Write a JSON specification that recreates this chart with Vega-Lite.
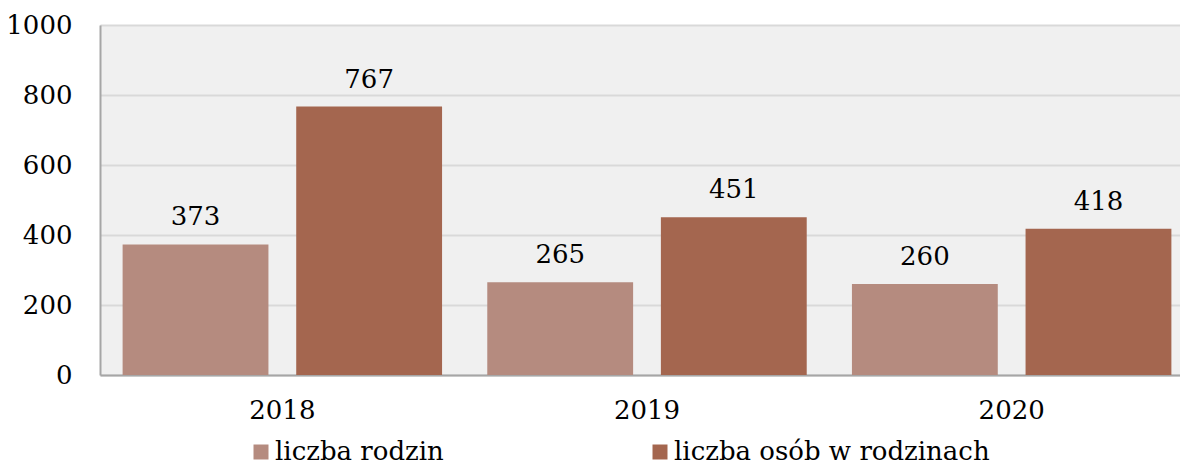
{
  "$schema": "https://vega.github.io/schema/vega-lite/v6.json",
  "width": 1094,
  "height": 350,
  "autosize": {"type": "none"},
  "padding": {"left": 100, "top": 25, "right": 0, "bottom": 100},
  "background": "white",
  "config": {
    "view": {"fill": "#f0f0f0", "stroke": null},
    "font": "DejaVu Serif"
  },
  "data": {
    "values": [
      {"rok": "2018", "seria": "liczba rodzin", "wartosc": 373},
      {"rok": "2018", "seria": "liczba osób w rodzinach", "wartosc": 767},
      {"rok": "2019", "seria": "liczba rodzin", "wartosc": 265},
      {"rok": "2019", "seria": "liczba osób w rodzinach", "wartosc": 451},
      {"rok": "2020", "seria": "liczba rodzin", "wartosc": 260},
      {"rok": "2020", "seria": "liczba osób w rodzinach", "wartosc": 418}
    ]
  },
  "encoding": {
    "x": {
      "field": "rok", "type": "nominal",
      "scale": {"paddingInner": 0.124, "paddingOuter": 0.062},
      "axis": {
        "title": null, "labelAngle": 0, "ticks": false,
        "domainColor": "#a6a6a6", "domainWidth": 2,
        "labelFontSize": 26, "labelColor": "#000000", "labelPadding": 22,
        "labelFont": "DejaVu Serif"
      }
    },
    "xOffset": {
      "field": "seria", "type": "nominal",
      "scale": {"domain": ["liczba rodzin", "liczba osób w rodzinach"], "paddingInner": 0.16, "paddingOuter": 0}
    },
    "y": {
      "field": "wartosc", "type": "quantitative",
      "scale": {"domain": [0, 1000]},
      "axis": {
        "title": null, "values": [0, 200, 400, 600, 800, 1000], "format": "d",
        "ticks": false, "domainColor": "#a6a6a6", "domainWidth": 2,
        "gridColor": "#d9d9d9", "gridWidth": 2,
        "labelFontSize": 26, "labelColor": "#000000", "labelPadding": 28,
        "labelFont": "DejaVu Serif"
      }
    }
  },
  "layer": [
    {
      "mark": {"type": "bar"},
      "encoding": {
        "color": {
          "field": "seria", "type": "nominal",
          "scale": {
            "domain": ["liczba rodzin", "liczba osób w rodzinach"],
            "range": ["#b58b7f", "#a4664f"]
          },
          "legend": {
            "title": null, "orient": "none", "direction": "horizontal",
            "legendX": 148, "legendY": 414,
            "symbolType": "square", "symbolSize": 225, "symbolStrokeWidth": 0,
            "labelFontSize": 26, "labelColor": "#000000", "labelFont": "DejaVu Serif",
            "labelOffset": 1, "columnPadding": 203, "labelLimit": 400
          }
        }
      }
    },
    {
      "mark": {"type": "text", "baseline": "bottom", "dy": -14, "fontSize": 26, "color": "#000000"},
      "encoding": {
        "text": {"field": "wartosc", "type": "quantitative"}
      }
    }
  ]
}
